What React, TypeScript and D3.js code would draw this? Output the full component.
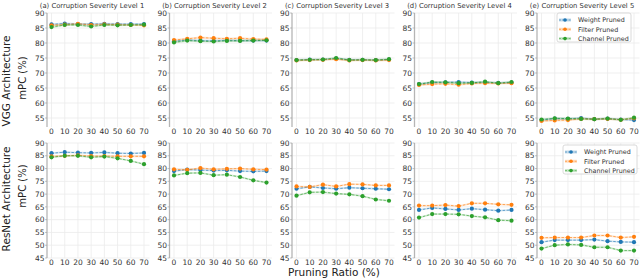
import React from "react";
import * as d3 from "d3";

const ratios = [0, 10, 20, 30, 40, 50, 60, 70];
const levels = ["(a) Corruption Severity Level 1", "(b) Corruption Severity Level 2", "(c) Corruption Severity Level 3", "(d) Corruption Severity Level 4", "(e) Corruption Severity Level 5"];
const seriesNames = ["Weight Pruned", "Filter Pruned", "Channel Pruned"];
const seriesColors = ["#1f77b4", "#ff7f0e", "#2ca02c"];
const vggTicks = [55, 60, 65, 70, 75, 80, 85, 90];
const resTicks = [45, 50, 55, 60, 65, 70, 75, 80, 85, 90];

const vggWeight = [
  [86.2, 86.5, 86.3, 86.3, 86.4, 86.3, 86.3, 86.3],
  [80.6, 81.0, 80.8, 80.7, 80.9, 80.8, 80.8, 80.8],
  [74.3, 74.5, 74.5, 74.8, 74.4, 74.4, 74.3, 74.5],
  [66.3, 66.8, 66.9, 67.0, 66.8, 66.9, 66.7, 66.8],
  [54.3, 54.8, 54.7, 55.0, 54.6, 54.8, 54.5, 54.3],
];
const vggFilter = [
  [85.9, 86.1, 86.4, 86.0, 86.2, 86.1, 86.0, 85.9],
  [81.0, 81.4, 81.8, 81.6, 81.4, 81.6, 81.3, 81.2],
  [74.2, 74.3, 74.4, 74.6, 74.2, 74.3, 74.2, 74.3],
  [66.0, 66.3, 66.4, 66.1, 66.5, 66.6, 66.5, 66.6],
  [54.0, 54.2, 54.3, 54.7, 54.6, 54.7, 54.4, 54.9],
];
const vggChannel = [
  [85.3, 86.0, 86.0, 85.5, 86.0, 85.9, 86.0, 86.1],
  [80.2, 80.8, 80.6, 80.5, 80.7, 80.7, 80.8, 80.9],
  [74.3, 74.4, 74.5, 75.0, 74.3, 74.4, 74.3, 74.6],
  [66.3, 67.0, 66.9, 66.6, 66.7, 67.1, 66.6, 67.0],
  [54.5, 54.9, 54.8, 54.7, 54.6, 54.8, 54.4, 55.1],
];
const resWeight = [
  [86.0, 86.4, 86.2, 86.1, 86.3, 86.0, 85.9, 86.1],
  [79.0, 79.6, 79.4, 79.2, 79.3, 79.0, 78.9, 79.0],
  [72.1, 72.8, 72.4, 72.1, 72.5, 72.3, 72.1, 71.9],
  [63.8, 64.6, 64.2, 63.8, 64.3, 63.9, 63.5, 63.8],
  [51.2, 52.0, 52.0, 52.0, 52.2, 51.6, 51.3, 51.2],
];
const resFilter = [
  [84.8, 85.0, 85.2, 84.9, 84.9, 84.8, 84.8, 84.8],
  [79.7, 79.5, 80.2, 79.7, 79.9, 80.0, 79.7, 79.6],
  [73.0, 72.8, 73.7, 73.0, 73.9, 73.8, 73.4, 73.4],
  [65.5, 65.5, 65.7, 65.3, 66.4, 66.4, 66.0, 65.8],
  [52.9, 53.0, 53.0, 53.0, 53.8, 53.8, 53.0, 53.3],
];
const resChannel = [
  [84.4, 85.0, 85.0, 84.4, 84.7, 84.0, 83.0, 81.7],
  [77.3, 78.2, 78.3, 77.4, 77.6, 76.7, 75.4, 74.5],
  [69.4, 70.7, 70.8, 70.2, 69.9, 69.2, 67.9, 67.4],
  [60.8, 62.2, 62.2, 62.1, 61.4, 60.9, 59.8, 59.6],
  [48.7, 50.0, 50.3, 50.1, 49.2, 49.2, 47.9, 47.9],
];

const FONT = "DejaVu Sans";

type RowCfg = {
  series: number[][][];
  ticks: number[];
  domain: [number, number];
  top: number;
  bottom: number;
  xLabelY: number;
  rowLabel: string;
  rowLabelY: number;
  mpcY: number;
  legendY: number;
  legendX: number;
};

const rows: RowCfg[] = [
  { series: [vggWeight, vggFilter, vggChannel], ticks: vggTicks, domain: [52, 90], top: 13, bottom: 127, xLabelY: 134, rowLabel: "VGG Architecture", rowLabelY: 81, mpcY: 78, legendY: 13, legendX: 557 },
  { series: [resWeight, resFilter, resChannel], ticks: resTicks, domain: [45, 90], top: 143, bottom: 258, xLabelY: 265, rowLabel: "ResNet Architecture", rowLabelY: 199, mpcY: 186, legendY: 145, legendX: 563 },
];

function Panel({ row, idx }: { row: RowCfg; idx: number }) {
  const x0 = 51.5 + idx * 122.5;
  const x = d3.scaleLinear().domain([0, 70]).range([x0, x0 + 92.5]);
  const y = d3.scaleLinear().domain(row.domain).range([row.bottom, row.top]);
  const left = x0 - 4.5;
  const right = x0 + 98;
  const line = d3.line<number>().x((_, i) => x(ratios[i])).y((v) => y(v));
  const area = d3.area<number>().x((_, i) => x(ratios[i])).y0((v) => y(v - 0.35)).y1((v) => y(v + 0.35));
  return (
    <g>
      {ratios.map((r) => (
        <line key={"vx" + r} x1={x(r)} x2={x(r)} y1={row.top} y2={row.bottom} stroke="#ebebeb" strokeWidth={0.8} />
      ))}
      {row.ticks.map((t) => (
        <line key={"hy" + t} x1={left} x2={right} y1={y(t)} y2={y(t)} stroke="#ebebeb" strokeWidth={0.8} />
      ))}
      <line x1={left} x2={left} y1={row.top} y2={row.bottom} stroke="#b5b5b5" strokeWidth={1.3} />
      {row.ticks.map((t) => (
        <g key={"yt" + t}>
          <line x1={left - 2} x2={left} y1={y(t)} y2={y(t)} stroke="#999" strokeWidth={0.6} />
          <text x={left - 2.5} y={y(t)} dy="0.35em" textAnchor="end" fontSize={7.5} fontFamily={FONT} fill="#333">{t}</text>
        </g>
      ))}
      {ratios.map((r) => (
        <text key={"xt" + r} x={x(r)} y={row.xLabelY} textAnchor="middle" fontSize={7.5} fontFamily={FONT} fill="#333">{r}</text>
      ))}
      {row.series.map((s, si) => {
        const vals = s[idx];
        return (
          <g key={"s" + si}>
            <path d={area(vals) || ""} fill={seriesColors[si]} opacity={0.2} />
            <path d={line(vals) || ""} fill="none" stroke={seriesColors[si]} strokeWidth={0.9} strokeDasharray="2.5,1.5" opacity={0.7} />
            {vals.map((v, i) => (
              <circle key={i} cx={x(ratios[i])} cy={y(v)} r={2.1} fill={seriesColors[si]} />
            ))}
          </g>
        );
      })}
    </g>
  );
}

function Legend({ xLeft, yTop }: { xLeft: number; yTop: number }) {
  return (
    <g>
      <rect x={xLeft} y={yTop} width={74} height={29} rx={2} fill="white" fillOpacity={0.85} stroke="#d0d0d0" strokeWidth={0.8} />
      {seriesNames.map((n, i) => (
        <g key={n}>
          <line x1={xLeft + 2} x2={xLeft + 14} y1={yTop + 7 + i * 9.3} y2={yTop + 7 + i * 9.3} stroke={seriesColors[i]} strokeWidth={3} opacity={0.25} />
          <line x1={xLeft + 2} x2={xLeft + 14} y1={yTop + 7 + i * 9.3} y2={yTop + 7 + i * 9.3} stroke={seriesColors[i]} strokeWidth={0.8} strokeDasharray="2,1.2" opacity={0.7} />
          <circle cx={xLeft + 8} cy={yTop + 7 + i * 9.3} r={1.8} fill={seriesColors[i]} />
          <text x={xLeft + 21} y={yTop + 7 + i * 9.3} dy="0.35em" fontSize={6.4} fontFamily={FONT} fill="#333">{n}</text>
        </g>
      ))}
    </g>
  );
}

export default function App() {
  return (
    <svg width={640} height={278} style={{ position: "absolute", left: 0, top: 0 }}>
      <rect width={640} height={278} fill="white" />
      {levels.map((l, i) => (
        <text key={l} x={51.5 + i * 122.5 + 40.5} y={7.5} textAnchor="middle" fontSize={6.8} fontFamily={FONT} fill="#333">{l}</text>
      ))}
      {rows.map((row, ri) => (
        <g key={ri}>
          {levels.map((_, i) => (
            <Panel key={i} row={row} idx={i} />
          ))}
          <Legend xLeft={row.legendX} yTop={row.legendY} />
          <text transform={`translate(9.5,${row.rowLabelY}) rotate(-90)`} textAnchor="middle" fontSize={10.5} fontFamily={FONT} fill="#222">{row.rowLabel}</text>
          <text transform={`translate(25.5,${row.mpcY}) rotate(-90)`} textAnchor="middle" fontSize={10} fontFamily={FONT} fill="#222">mPC (%)</text>
        </g>
      ))}
      <text x={334} y={276} textAnchor="middle" fontSize={10.5} fontFamily={FONT} fill="#222">Pruning Ratio (%)</text>
    </svg>
  );
}
